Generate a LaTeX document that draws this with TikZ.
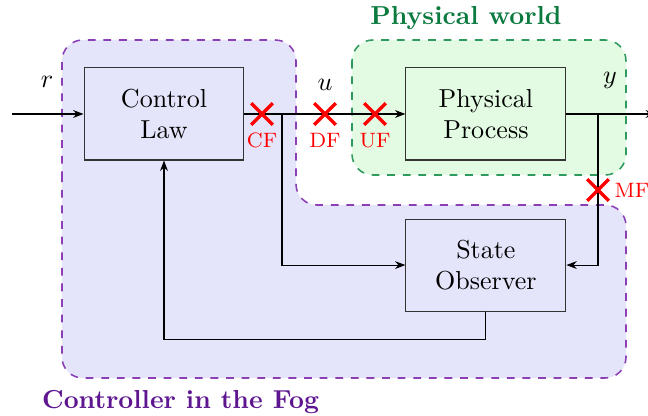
\documentclass[tikz,border=0pt]{standalone}
\usetikzlibrary{arrows.meta, positioning, shapes.misc}
\definecolor{fogfill}{HTML}{E4E4FA}
\definecolor{fogline}{HTML}{8A3FB5}
\definecolor{fogtext}{HTML}{5E1690}
\definecolor{physfill}{HTML}{E2FBE2}
\definecolor{physline}{HTML}{2E9A5E}
\definecolor{phystext}{HTML}{0B7A3E}

\begin{document}
\begin{tikzpicture}[x=0.3846pt, y=-0.3846pt,
    block/.style={draw=black!80, minimum width=61.5pt, minimum height=35.4pt, align=center, inner sep=2pt},
    fault/.style={cross out, draw=red, line width=1.3pt, minimum size=7pt, inner sep=0pt},
    faultlbl/.style={text=red, font=\footnotesize, inner sep=1pt},
    sig/.style={-{Stealth[length=4pt, width=3pt]}}]
    \useasboundingbox (0,0) rectangle (648,416);

    % zones
    \path[fill=fogfill, draw=fogline, semithick, dashed, rounded corners=8]
      (62,200) -- (62,40) -- (296,40) -- (296,205) -- (626,205) -- (626,378) -- (62,378) -- cycle;
    \path[fill=physfill, draw=physline, semithick, dashed, rounded corners=8]
      (352,40) rectangle (626,175);
    \node[text=phystext, font=\bfseries] (physttl) at (466,18) {Physical world};
    \node[text=fogtext, font=\bfseries, anchor=west] (fogttl) at (33,402) {Controller in the Fog};

    % blocks
    \node[block, fill=fogfill] (law) at (164,114) {Control\\Law};
    \node[block, fill=physfill, right=61.9pt of law] (plant) {Physical\\Process};
    \node[block, fill=fogfill, below=22.3pt of plant] (obs) {State\\Observer};

    \coordinate (ref) at (12,114);
    \coordinate (out) at (656,114);
    \coordinate (tapu) at (282,114);
    \coordinate (tapy) at (598,114);

    % signals
    \draw[sig] (ref) -- (law);
    \draw[sig] (law) -- (plant);
    \draw[sig] (plant) -- (out);
    \draw[sig] (tapu) |- (obs);
    \draw[sig] (tapy) |- (obs);
    \draw[sig] (obs.south) -- ++(0,28) -| (law.south);

    \node (rlbl) at (47,82) {$r$};
    \node (ulbl) at (325,85) {$u$};
    \node (ylbl) at (610,80) {$y$};

    % fault points
    \node[fault] (cf) at (262,114) {};
    \node[fault] (df) at (325,114) {};
    \node[fault] (uf) at (375,114) {};
    \node[fault] (mf) at (598,190) {};
    \node[faultlbl, below=2pt of cf] (cflbl) {CF};
    \node[faultlbl, below=2pt of df] (dflbl) {DF};
    \node[faultlbl, below=2pt of uf] (uflbl) {UF};
    \node[faultlbl, right=1pt of mf] (mflbl) {MF};
\end{tikzpicture}
\end{document}
